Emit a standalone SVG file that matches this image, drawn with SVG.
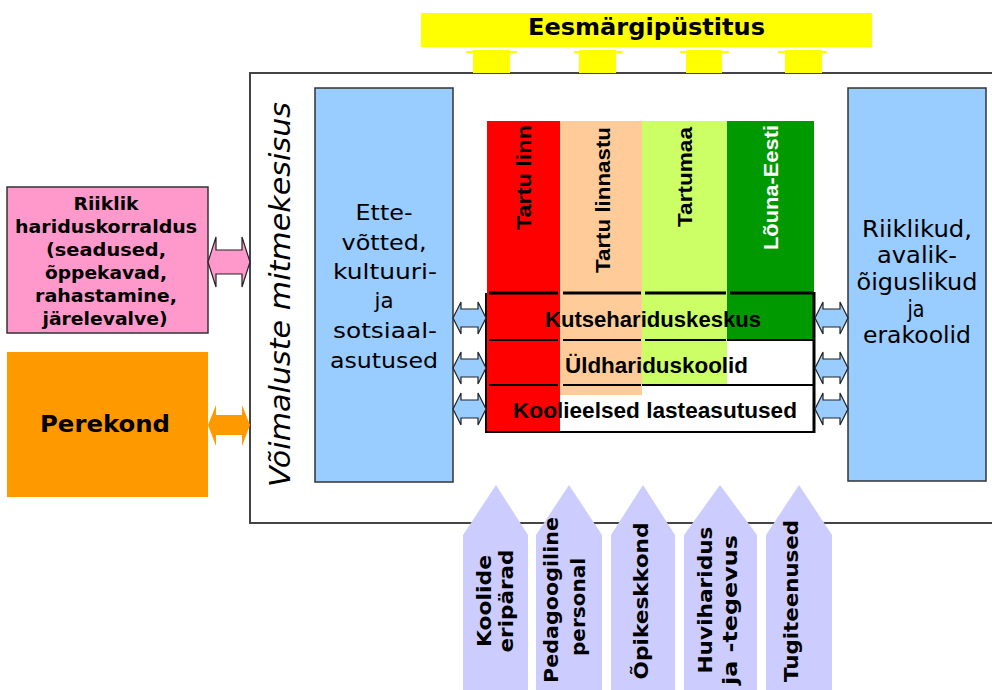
<svg xmlns="http://www.w3.org/2000/svg" width="992" height="690" viewBox="0 0 992 690">
<style>
.v{font-family:"DejaVu Sans",Verdana,sans-serif;fill:#000}
.b{font-weight:bold}
.a{font-family:"Liberation Sans",Arial,sans-serif;font-weight:bold;fill:#000}
.box{stroke:#333;stroke-width:1.5}
.blue{fill:#99CCFF}
.sarr{fill:#99CCFF;stroke:#222;stroke-width:1.2}
.lav{fill:#CCCCFF}
.peg{fill:#FFFF00}
.tl{fill:none;stroke:#000}
</style>
<defs>
<path id="sa" d="M0,0 L8,-16 L8,-9 L25,-9 L25,-16 L33,0 L25,16 L25,9 L8,9 L8,16 Z"/>
</defs>
<rect x="0" y="0" width="992" height="690" fill="#fff"/>

<g id="frame">
<rect x="250" y="73" width="760" height="450" fill="#fff" stroke="#444" stroke-width="2"/>
<text class="v" font-style="italic" font-size="29" transform="translate(290,487) rotate(-90)" textLength="385" lengthAdjust="spacingAndGlyphs">Võimaluste mitmekesisus</text>
</g>

<g id="eesmargipustitus">
<rect x="421" y="13" width="451" height="34" fill="#FFFF00"/>
<text class="v b" font-size="23" x="646.5" y="35" text-anchor="middle" textLength="237" lengthAdjust="spacingAndGlyphs">Eesmärgipüstitus</text>
<rect class="peg" x="473" y="50" width="37" height="23"/><rect class="peg" x="466" y="51" width="51" height="2"/>
<rect class="peg" x="579" y="50" width="37" height="23"/><rect class="peg" x="574" y="51" width="49" height="2"/>
<rect class="peg" x="686" y="50" width="36" height="23"/><rect class="peg" x="680" y="51" width="49" height="2"/>
<rect class="peg" x="785" y="50" width="37" height="23"/><rect class="peg" x="778" y="51" width="49" height="2"/>
</g>

<g id="riiklik">
<rect class="box" x="7" y="187" width="201" height="146" fill="#FF99CC"/>
<g class="v b" font-size="18" text-anchor="middle">
<text x="106" y="210" textLength="65" lengthAdjust="spacingAndGlyphs">Riiklik</text>
<text x="106" y="233" textLength="182" lengthAdjust="spacingAndGlyphs">hariduskorraldus</text>
<text x="106" y="256" textLength="120" lengthAdjust="spacingAndGlyphs">(seadused,</text>
<text x="106" y="279" textLength="122" lengthAdjust="spacingAndGlyphs">õppekavad,</text>
<text x="106" y="302" textLength="142" lengthAdjust="spacingAndGlyphs">rahastamine,</text>
<text x="105" y="325" textLength="125" lengthAdjust="spacingAndGlyphs">järelevalve)</text>
</g>
</g>

<g id="perekond">
<rect x="7" y="352" width="201" height="145" fill="#FF9900"/>
<text class="v b" font-size="23" x="105" y="432" text-anchor="middle" textLength="130" lengthAdjust="spacingAndGlyphs">Perekond</text>
</g>

<g id="ettevotted">
<rect class="box blue" x="315" y="88" width="138" height="394"/>
<g class="v" font-size="22" text-anchor="middle">
<text x="384" y="220" textLength="57" lengthAdjust="spacingAndGlyphs">Ette-</text>
<text x="384" y="250" textLength="85" lengthAdjust="spacingAndGlyphs">võtted,</text>
<text x="385" y="279" textLength="104" lengthAdjust="spacingAndGlyphs">kultuuri-</text>
<text x="384" y="308" textLength="19" lengthAdjust="spacingAndGlyphs">ja</text>
<text x="385" y="338" textLength="104" lengthAdjust="spacingAndGlyphs">sotsiaal-</text>
<text x="384" y="368" textLength="108" lengthAdjust="spacingAndGlyphs">asutused</text>
</g>
</g>

<g id="riiklikud">
<rect class="box blue" x="848" y="88" width="138" height="393"/>
<g class="v" font-size="23" text-anchor="middle">
<text x="917" y="237" textLength="110" lengthAdjust="spacingAndGlyphs">Riiklikud,</text>
<text x="917" y="263" textLength="80" lengthAdjust="spacingAndGlyphs">avalik-</text>
<text x="917" y="290" textLength="121" lengthAdjust="spacingAndGlyphs">õiguslikud</text>
<text x="916" y="317" textLength="17" lengthAdjust="spacingAndGlyphs">ja</text>
<text x="917" y="343" textLength="108" lengthAdjust="spacingAndGlyphs">erakoolid</text>
</g>
</g>

<g id="columns">
<rect x="487" y="121" width="73" height="311" fill="#FF0000"/>
<rect x="560" y="121" width="82" height="274" fill="#FFCC99"/>
<rect x="642" y="121" width="85" height="264" fill="#CCFF66"/>
<rect x="727" y="121" width="87" height="219" fill="#009900"/>
<text class="a" font-size="20" transform="translate(531,230) rotate(-90)" textLength="105" lengthAdjust="spacingAndGlyphs">Tartu linn</text>
<text class="a" font-size="20" transform="translate(610,273) rotate(-90)" textLength="146" lengthAdjust="spacingAndGlyphs">Tartu linnastu</text>
<text class="a" font-size="20" transform="translate(692,227) rotate(-90)" textLength="100" lengthAdjust="spacingAndGlyphs">Tartumaa</text>
<text class="a" font-size="20" transform="translate(778,250) rotate(-90)" textLength="125" lengthAdjust="spacingAndGlyphs" style="fill:#fff">Lõuna-Eesti</text>
</g>

<g id="table">
<g class="tl" stroke-width="3">
<line x1="489" y1="293" x2="558" y2="293"/><line x1="563" y1="293" x2="641" y2="293"/><line x1="645" y1="293" x2="726" y2="293"/><line x1="730" y1="293" x2="813" y2="293"/>
</g>
<g class="tl" stroke-width="2">
<line x1="489" y1="340" x2="558" y2="340"/><line x1="563" y1="340" x2="641" y2="340"/><line x1="645" y1="340" x2="726" y2="340"/><line x1="727" y1="340" x2="813" y2="340"/>
<line x1="489" y1="385" x2="558" y2="385"/><line x1="563" y1="385" x2="641" y2="385"/><line x1="642" y1="385" x2="813" y2="385"/>
<line x1="486" y1="432" x2="815" y2="432"/>
<line x1="486" y1="293" x2="486" y2="433"/>
</g>
<line class="tl" x1="814" y1="292" x2="814" y2="433" stroke-width="3"/>
<text class="a" font-size="22" x="653" y="327" text-anchor="middle" textLength="216" lengthAdjust="spacingAndGlyphs">Kutsehariduskeskus</text>
<text class="a" font-size="22" x="656.5" y="373" text-anchor="middle" textLength="183" lengthAdjust="spacingAndGlyphs">Üldhariduskoolid</text>
<text class="a" font-size="22" x="655" y="418" text-anchor="middle" textLength="284" lengthAdjust="spacingAndGlyphs">Koolieelsed lasteasutused</text>
</g>

<g id="bottom-arrows">
<polygon class="lav" points="463,690 463,535 496,485 528,535 528,690"/>
<polygon class="lav" points="536,690 536,535 569,485 602,535 602,690"/>
<polygon class="lav" points="611,690 611,535 643,485 675,535 675,690"/>
<polygon class="lav" points="684,690 684,535 720,485 757,535 757,690"/>
<polygon class="lav" points="766,690 766,535 799,485 832,535 832,690"/>
<g class="v b" font-size="20" text-anchor="middle">
<text transform="translate(491,601) rotate(-90)" textLength="92" lengthAdjust="spacingAndGlyphs">Koolide</text>
<text transform="translate(513,601) rotate(-90)" textLength="103" lengthAdjust="spacingAndGlyphs">eripärad</text>
<text transform="translate(558,600) rotate(-90)" textLength="166" lengthAdjust="spacingAndGlyphs">Pedagoogiline</text>
<text transform="translate(585,607) rotate(-90)" textLength="98" lengthAdjust="spacingAndGlyphs">personal</text>
<text transform="translate(648,601) rotate(-90)" textLength="157" lengthAdjust="spacingAndGlyphs">Õpikeskkond</text>
<text transform="translate(712,600) rotate(-90)" textLength="147" lengthAdjust="spacingAndGlyphs">Huviharidus</text>
<text transform="translate(737,610) rotate(-90)" textLength="150" lengthAdjust="spacingAndGlyphs">ja -tegevus</text>
<text transform="translate(798,601) rotate(-90)" textLength="162" lengthAdjust="spacingAndGlyphs">Tugiteenused</text>
</g>
</g>

<g id="connectors">
<path d="M208,262 L216,237 L216,250 L242,250 L242,237 L250,262 L242,287 L242,274 L216,274 L216,287 Z" fill="#FF99CC" stroke="#222" stroke-width="1.2"/>
<path d="M208,425 L216,405 L216,415 L242,415 L242,405 L250,425 L242,446 L242,435 L216,435 L216,446 Z" fill="#FF9900"/>
<use href="#sa" class="sarr" transform="translate(453,318)"/>
<use href="#sa" class="sarr" transform="translate(453,368)"/>
<use href="#sa" class="sarr" transform="translate(453,409)"/>
<use href="#sa" class="sarr" transform="translate(815,318)"/>
<use href="#sa" class="sarr" transform="translate(815,368)"/>
<use href="#sa" class="sarr" transform="translate(815,409)"/>
</g>
</svg>
